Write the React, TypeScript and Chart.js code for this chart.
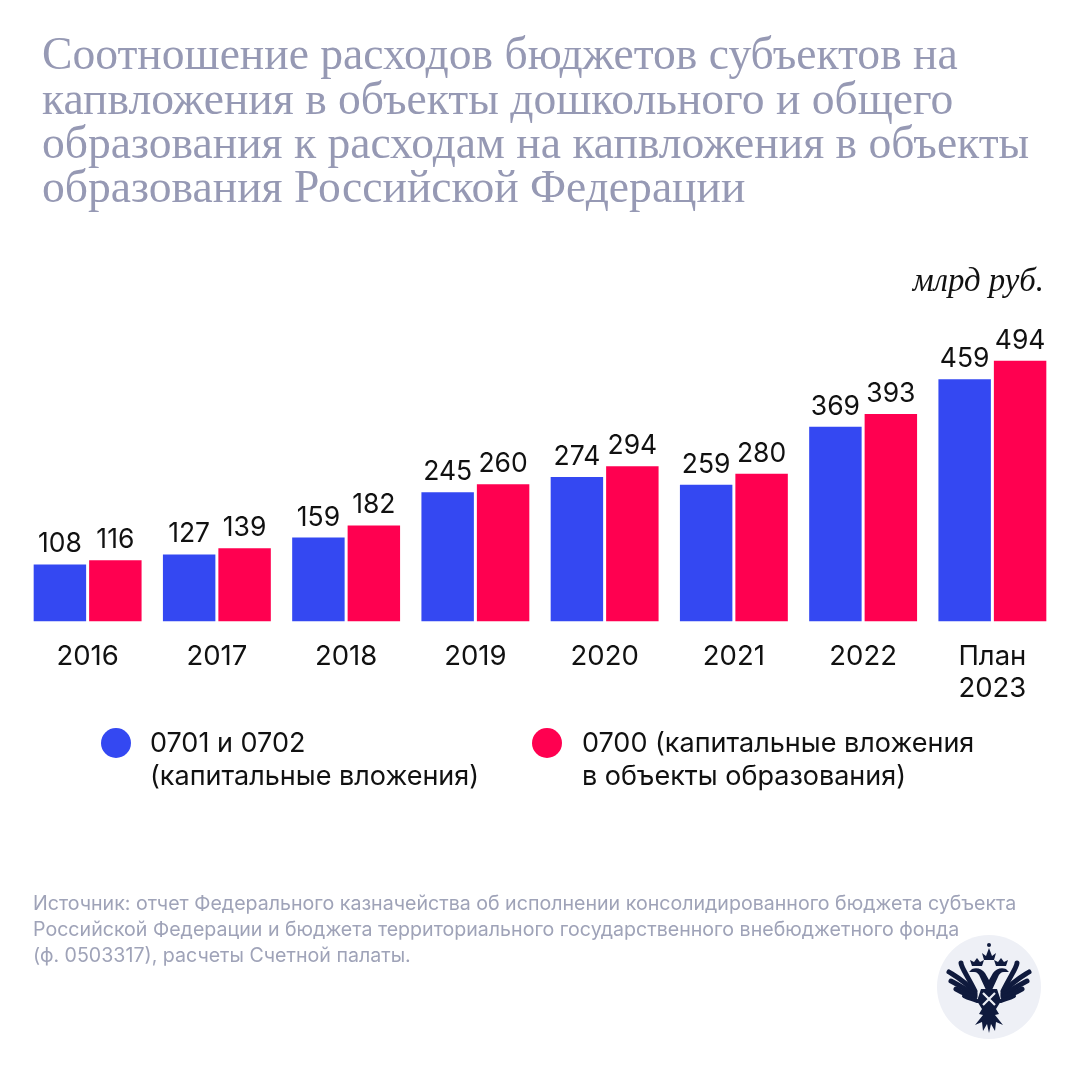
import React, { useEffect, useRef } from "react";
import { Chart, registerables } from "chart.js";

Chart.register(...registerables);

const categories: (string | string[])[] = ["2016", "2017", "2018", "2019", "2020", "2021", "2022", ["План", "2023"]];
const capitalSchools = [108, 127, 159, 245, 274, 259, 369, 459];
const capitalEducation = [116, 139, 182, 260, 294, 280, 393, 494];
const seriesNames = ["0701 и 0702 (капитальные вложения)", "0700 (капитальные вложения в объекты образования)"];
const titleLines = [
  "Соотношение расходов бюджетов субъектов на",
  "капвложения в объекты дошкольного и общего",
  "образования к расходам на капвложения в объекты",
  "образования Российской Федерации",
];
const unitLabel = "млрд руб.";
const sourceLines = [
  "Источник: отчет Федерального казначейства об исполнении консолидированного бюджета субъекта",
  "Российской Федерации и бюджета территориального государственного внебюджетного фонда",
  "(ф. 0503317), расчеты Счетной палаты.",
];

const BLUE = "#3448F2";
const RED = "#FF0050";
const GREY = "#9699B4";
const SANS = "Inter, Roboto, sans-serif";

const valueLabels = {
  id: "valueLabels",
  afterLayout(chart: any) {
    if (chart.titleBlock) chart.titleBlock.left = 42;
  },
  afterDatasetsDraw(chart: any) {
    const { ctx } = chart;
    ctx.save();
    ctx.font = `400 26.5px ${SANS}`;
    ctx.fillStyle = "#111";
    ctx.textAlign = "center";
    ctx.textBaseline = "alphabetic";
    chart.data.datasets.forEach((ds: any, i: number) => {
      chart.getDatasetMeta(i).data.forEach((bar: any, j: number) => {
        ctx.fillText(String(ds.data[j]), bar.x, bar.y - 12);
      });
    });
    ctx.restore();
  },
};

const abs = (o: React.CSSProperties): React.CSSProperties => ({ position: "absolute", margin: 0, whiteSpace: "nowrap", ...o });

const wing = (
  <g fill="none" stroke="#0F1A3D" strokeLinecap="round">
    <path d="M38 56C30 40 24 32 24 28" strokeWidth="5" />
    <path d="M38 58C28 46 20 42 12 37" strokeWidth="5" />
    <path d="M38 60C28 54 22 50 14 46" strokeWidth="5" />
    <path d="M38 62C30 60 26 58 19 54" strokeWidth="5" />
    <path d="M40 66C36 64 32 64 27 61" strokeWidth="4" />
  </g>
);

export default function App() {
  const ref = useRef<HTMLCanvasElement>(null);
  useEffect(() => {
    document.body.style.margin = "0";
    document.body.style.background = "#fff";
    const chart = new Chart(ref.current!, {
      type: "bar",
      plugins: [valueLabels],
      data: {
        labels: categories as any,
        datasets: [
          { label: seriesNames[0], data: capitalSchools, backgroundColor: BLUE },
          { label: seriesNames[1], data: capitalEducation, backgroundColor: RED },
        ],
      },
      options: {
        responsive: false,
        animation: false,
        layout: { padding: { left: 23, right: 23, top: 0, bottom: 375.5 } },
        datasets: { bar: { categoryPercentage: 0.858, barPercentage: 0.946 } },
        plugins: {
          legend: { display: false },
          tooltip: { enabled: false },
          title: {
            display: true,
            text: titleLines,
            align: "start",
            color: GREY,
            font: { family: "'Liberation Serif', serif", size: 45.6, weight: "400", lineHeight: 44.4 / 45.6 },
            padding: { top: 35, bottom: 145 },
          },
        },
        scales: {
          x: {
            grid: { display: false },
            border: { display: false },
            ticks: { color: "#111", font: { family: SANS, size: 27.5, lineHeight: 32 / 27.5 }, maxRotation: 0, padding: 11, autoSkip: false },
            afterFit: (s: any) => { s.height = 80; },
          },
          y: { display: false, min: 0, max: 500 },
        },
      },
    } as any);
    return () => chart.destroy();
  }, []);

  const legendText: React.CSSProperties = { fontFamily: SANS, fontSize: 27, lineHeight: "33px", color: "#111" };
  return (
    <div style={{ position: "relative", width: 1080, height: 1077, overflow: "hidden", background: "#fff" }}>
      <canvas ref={ref} width={1080} height={1077} style={{ display: "block" }} />
      <div style={abs({ right: 36, top: 262, fontFamily: "'Liberation Serif', serif", fontStyle: "italic", fontSize: 32.8, color: "#111" })}>{unitLabel}</div>

      <div style={abs({ left: 101, top: 728, width: 30, height: 30, borderRadius: "50%", background: BLUE })} />
      <div style={abs({ left: 150, top: 726, ...legendText })}>0701 и 0702<br />(капитальные вложения)</div>
      <div style={abs({ left: 532, top: 728, width: 30, height: 30, borderRadius: "50%", background: RED })} />
      <div style={abs({ left: 582, top: 726, ...legendText })}>0700 (капитальные вложения<br />в объекты образования)</div>

      <div style={abs({ left: 33, top: 890, fontFamily: SANS, fontSize: 19.6, lineHeight: "26px", color: "#9FA3B8" })}>
        {sourceLines.map((l) => <div key={l}>{l}</div>)}
      </div>

      <svg style={{ position: "absolute", left: 937, top: 935 }} width={104} height={104} viewBox="0 0 104 104">
        <circle cx="52" cy="52" r="52" fill="#EEF0F6" />
        {wing}
        <g transform="matrix(-1 0 0 1 104 0)">{wing}</g>
        <g fill="#0F1A3D">
          <path d="M35 34c5-2 10 0 13 4l4 7 4-7c3-4 8-6 13-4l3 3-5 0c-3 0-5 2-6 5l-6 13h-6l-6-13c-1-3-3-5-6-5l-5 0z" />
          <path d="M44 54h16l4 12-5 8 3 5-4 1 8 10-7-3-1 9-4-7-2 9-2-9-4 7-1-9-7 3 8-10-4-1 3-5-5-8z" />
          <path d="M47 25l-2-7 4 3 3-8 3 8 4-3-2 7z" />
          <path d="M35 31l-2-6 4 2 3-4 3 4 4-2-2 6z" />
          <path d="M69 31l2-6-4 2-3-4-3 4-4-2 2 6z" />
          <circle cx="52" cy="10" r="2" />
        </g>
        <path d="M46 58l12 12M58 58L46 70" stroke="#EEF0F6" strokeWidth="2.2" />
      </svg>
    </div>
  );
}
